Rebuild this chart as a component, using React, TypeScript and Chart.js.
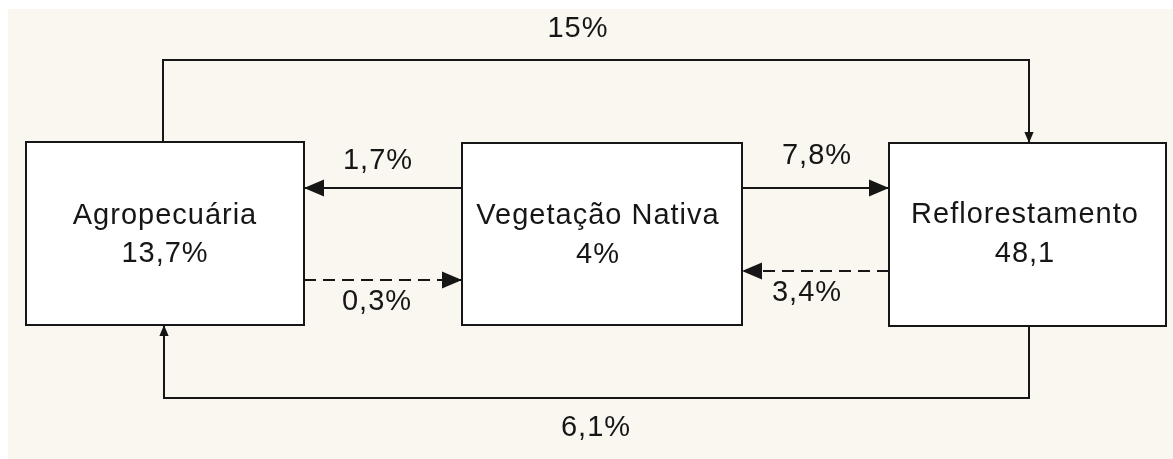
import React, { useEffect, useRef } from "react";
import { Chart, registerables } from "chart.js";

Chart.register(...registerables);

// ---- data ----
const nodeNames = ["Agropecuária", "Vegetação Nativa", "Reflorestamento"];
const nodeValues = ["13,7%", "4%", "48,1"];

const flowFrom = [0, 1, 0, 1, 2, 2];
const flowTo = [2, 0, 1, 2, 1, 0];
const flowValues = ["15%", "1,7%", "0,3%", "7,8%", "3,4%", "6,1%"];
const flowDashed = [false, false, true, false, true, false];

// ---- layout (diagram units = page pixels) ----
const nodeLeft = [26, 462, 889];
const nodeRight = [304, 742, 1166];
const nodeTop = [142, 143, 143];
const nodeBottom = [325, 325, 326];
const nodeLabelX = [165, 598, 1025];
const nodeLabelY1 = [216, 216, 215];
const nodeLabelY2 = [254, 255, 254];

const flowPaths: number[][][] = [
  [[163, 142], [163, 60], [1029, 60], [1029, 143]],
  [[462, 188], [304, 188]],
  [[304, 280], [462, 280]],
  [[742, 188], [889, 188]],
  [[889, 271], [742, 271]],
  [[1029, 326], [1029, 398], [164, 398], [164, 325]],
];
const flowArrowSize = [11, 20, 20, 20, 20, 11];
const flowLabelPos = [
  [578, 29],
  [378, 161],
  [377, 302],
  [817, 156],
  [807, 293],
  [596, 428],
];

const INK = "#161616";
const FONT = "29px 'Liberation Sans', Arial, sans-serif";

const diagramPlugin = {
  id: "diagram",
  beforeDatasetsDraw(chart: any) {
    const ctx = chart.ctx;
    const xs = chart.scales.x;
    const ys = chart.scales.y;
    ctx.save();
    for (let i = 0; i < nodeNames.length; i++) {
      const l = xs.getPixelForValue(nodeLeft[i]);
      const r = xs.getPixelForValue(nodeRight[i]);
      const t = ys.getPixelForValue(nodeTop[i]);
      const b = ys.getPixelForValue(nodeBottom[i]);
      ctx.fillStyle = "#ffffff";
      ctx.fillRect(l, t, r - l, b - t);
      ctx.strokeStyle = INK;
      ctx.lineWidth = 2;
      ctx.strokeRect(l, t, r - l, b - t);
    }
    ctx.restore();
  },
  afterDatasetsDraw(chart: any) {
    const ctx = chart.ctx;
    const xs = chart.scales.x;
    const ys = chart.scales.y;
    ctx.save();
    ctx.fillStyle = INK;
    flowPaths.forEach((path, i) => {
      const n = path.length;
      const tx = xs.getPixelForValue(path[n - 1][0]);
      const ty = ys.getPixelForValue(path[n - 1][1]);
      const px = xs.getPixelForValue(path[n - 2][0]);
      const py = ys.getPixelForValue(path[n - 2][1]);
      const ang = Math.atan2(ty - py, tx - px);
      const len = flowArrowSize[i];
      const hw = len * 0.42;
      ctx.save();
      ctx.translate(tx, ty);
      ctx.rotate(ang);
      ctx.beginPath();
      ctx.moveTo(0, 0);
      ctx.lineTo(-len, -hw);
      ctx.lineTo(-len, hw);
      ctx.closePath();
      ctx.fill();
      ctx.restore();
    });
    ctx.font = FONT;
    try { (ctx as any).letterSpacing = "1px"; } catch (e) {}
    ctx.fillStyle = INK;
    ctx.textAlign = "center";
    ctx.textBaseline = "middle";
    for (let i = 0; i < nodeNames.length; i++) {
      ctx.fillText(nodeNames[i], xs.getPixelForValue(nodeLabelX[i]), ys.getPixelForValue(nodeLabelY1[i]));
      ctx.fillText(nodeValues[i], xs.getPixelForValue(nodeLabelX[i]), ys.getPixelForValue(nodeLabelY2[i]));
    }
    flowValues.forEach((v, i) => {
      ctx.fillText(v, xs.getPixelForValue(flowLabelPos[i][0]), ys.getPixelForValue(flowLabelPos[i][1]));
    });
    ctx.restore();
  },
};

export default function App() {
  const ref = useRef<HTMLCanvasElement | null>(null);
  useEffect(() => {
    if (!ref.current) return;
    const datasets = flowPaths.map((path, i) => ({
      label: `${nodeNames[flowFrom[i]]} → ${nodeNames[flowTo[i]]}: ${flowValues[i]}`,
      data: path.map((p) => ({ x: p[0], y: p[1] })),
      showLine: true,
      borderColor: INK,
      borderWidth: 2,
      borderDash: flowDashed[i] ? [12, 7] : [],
      pointRadius: 0,
      tension: 0,
      fill: false,
    }));
    const chart = new Chart(ref.current, {
      type: "scatter",
      data: { datasets },
      options: {
        animation: false,
        responsive: false,
        events: [],
        layout: { padding: 0 },
        plugins: { legend: { display: false }, tooltip: { enabled: false } },
        scales: {
          x: { type: "linear", min: 8, max: 1173, display: false },
          y: { type: "linear", min: 9, max: 459, reverse: true, display: false },
        },
      },
      plugins: [diagramPlugin],
    } as any);
    return () => chart.destroy();
  }, []);
  return (
    <div style={{ position: "fixed", left: 8, top: 9, width: 1165, height: 450, background: "#f9f7f0" }}>
      <canvas ref={ref} width={1165} height={450} style={{ display: "block" }} />
    </div>
  );
}
